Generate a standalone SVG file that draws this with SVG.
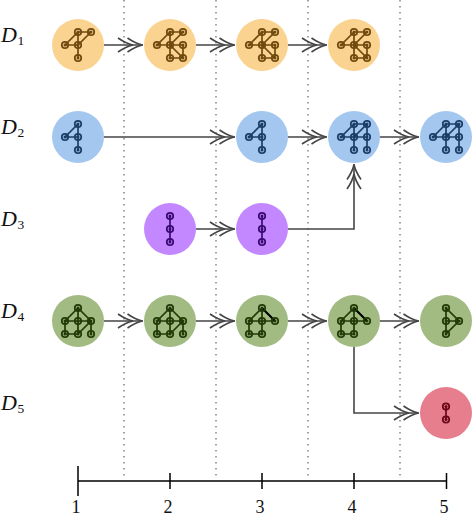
<svg xmlns="http://www.w3.org/2000/svg" width="474" height="516" viewBox="0 0 474 516">
<style>
text{font-family:"Liberation Serif","DejaVu Serif",serif;fill:#111}
.d{font-style:italic;font-size:22px}
.s{font-size:13.5px}
.t{font-size:18px;text-anchor:middle}
.grid{stroke:#8c8c8c;stroke-width:1.6;stroke-dasharray:1.6 4.4;fill:none}
.conn{stroke:#454545;stroke-width:1.6;fill:none;marker-end:url(#dbl)}
.axis{stroke:#000;stroke-width:1.5;fill:none}
.e{fill:none;stroke:currentColor;stroke-width:1.7}
.v{fill:none;stroke:currentColor;stroke-width:1.8}
.p{fill:currentColor}
.b{stroke:none}
.o{color:#6f4a0e}.o .b{fill:#fbd391}
.u{color:#1b3e68}.u .b{fill:#a4c7f0}
.r{color:#3a0a72}.r .b{fill:#c388ff}
.g{color:#213a07}.g .b{fill:#a1bb82}
.k{color:#680718}.k .b{fill:#e67e8e}
</style>
<defs>
<marker id="dbl" markerUnits="userSpaceOnUse" markerWidth="30" markerHeight="20" refX="26" refY="10" orient="auto">
<path d="M1 3 Q9 8.500 16 10 Q9 11.500 1 17M10.500 3 Q18.500 8.500 25.500 10 Q18.500 11.500 10.500 17" fill="none" stroke="#454545" stroke-width="1.6"/>
</marker>
<g id="vx"><circle class="v" r="3.2"/><circle class="p" r="1.5"/></g>
<path id="o1" class="e" d="M-13 0H0M-13 0L0-13M0-13H13M0-13V13M13-13L0 0"/>
<path id="o2" class="e" d="M-13 0H13M-13 0L0-13M0-13H13M0-13V13M13-13L0 0M0 0L13 13M13 0V13M0 13H13"/>
<path id="u1" class="e" d="M-13 0H0M-13 0L0-13M0-13V13"/>
<path id="u2" class="e" d="M-13 0H13M-13 0L0-13M0-13H13M0-13V13M13-13L0 0M13-13V13"/>
<path id="g1" class="e" d="M0-13L-13 0M0-13V13M0-13L13 0M-13 0H13M-13 0V13M-13 13H0M0 13L13 0M13 0V13"/>
<path id="g2" class="e" d="M0-13L-13 0M0-13V13M0-13L13 0M-13 0H13M-13 0V13M-13 13H0"/>
</defs>
<g id="grid">
<path class="grid" d="M124 0V478M216 0V478M308 0V478M400 0V478"/>
</g>
<g id="connectors">
<path class="conn" d="M104 45H143"/>
<path class="conn" d="M196 45H235"/>
<path class="conn" d="M288 45H327"/>
<path class="conn" d="M104 137H235"/>
<path class="conn" d="M380 137H419"/>
<path class="conn" d="M288 137H327"/>
<path class="conn" d="M196 229H235"/>
<path class="conn" d="M288 229H354V164"/>
<path class="conn" d="M104 321H143"/>
<path class="conn" d="M196 321H235"/>
<path class="conn" d="M288 321H327"/>
<path class="conn" d="M380 321H419"/>
<path class="conn" d="M354 347V413H419"/>
</g>
<g id="D1-1" class="o" transform="translate(78 45)"><circle class="b" r="26"/><use href="#o1"/><use href="#vx" x="-13"/><use href="#vx"/><use href="#vx" y="-13"/><use href="#vx" x="13" y="-13"/><use href="#vx" y="13"/></g>
<g id="D1-2" class="o" transform="translate(170 45)"><circle class="b" r="26"/><use href="#o2"/><use href="#vx" x="-13"/><use href="#vx"/><use href="#vx" x="13"/><use href="#vx" y="-13"/><use href="#vx" x="13" y="-13"/><use href="#vx" y="13"/><use href="#vx" x="13" y="13"/></g>
<g id="D1-3" class="o" transform="translate(262 45)"><circle class="b" r="26"/><use href="#o2"/><use href="#vx" x="-13"/><use href="#vx"/><use href="#vx" x="13"/><use href="#vx" y="-13"/><use href="#vx" x="13" y="-13"/><use href="#vx" y="13"/><use href="#vx" x="13" y="13"/></g>
<g id="D1-4" class="o" transform="translate(354 45)"><circle class="b" r="26"/><use href="#o2"/><use href="#vx" x="-13"/><use href="#vx"/><use href="#vx" x="13"/><use href="#vx" y="-13"/><use href="#vx" x="13" y="-13"/><use href="#vx" y="13"/><use href="#vx" x="13" y="13"/></g>
<g id="D2-1" class="u" transform="translate(78 137)"><circle class="b" r="26"/><use href="#u1"/><use href="#vx" x="-13"/><use href="#vx"/><use href="#vx" y="-13"/><use href="#vx" y="13"/></g>
<g id="D2-3" class="u" transform="translate(262 137)"><circle class="b" r="26"/><use href="#u1"/><use href="#vx" x="-13"/><use href="#vx"/><use href="#vx" y="-13"/><use href="#vx" y="13"/></g>
<g id="D2-4" class="u" transform="translate(354 137)"><circle class="b" r="26"/><use href="#u2"/><use href="#vx" x="-13"/><use href="#vx"/><use href="#vx" x="13"/><use href="#vx" y="-13"/><use href="#vx" x="13" y="-13"/><use href="#vx" y="13"/><use href="#vx" x="13" y="13"/></g>
<g id="D2-5" class="u" transform="translate(446 137)"><circle class="b" r="26"/><use href="#u2"/><use href="#vx" x="-13"/><use href="#vx"/><use href="#vx" x="13"/><use href="#vx" y="-13"/><use href="#vx" x="13" y="-13"/><use href="#vx" y="13"/><use href="#vx" x="13" y="13"/></g>
<g id="D3-2" class="r" transform="translate(170 229)"><circle class="b" r="26"/><path class="e" d="M0-13V13"/><use href="#vx"/><use href="#vx" y="-13"/><use href="#vx" y="13"/></g>
<g id="D3-3" class="r" transform="translate(262 229)"><circle class="b" r="26"/><path class="e" d="M0-13V13"/><use href="#vx"/><use href="#vx" y="-13"/><use href="#vx" y="13"/></g>
<g id="D4-1" class="g" transform="translate(78 321)"><circle class="b" r="26"/><use href="#g1"/><use href="#vx" y="-13"/><use href="#vx" x="-13"/><use href="#vx"/><use href="#vx" x="13"/><use href="#vx" x="-13" y="13"/><use href="#vx" y="13"/><use href="#vx" x="13" y="13"/></g>
<g id="D4-2" class="g" transform="translate(170 321)"><circle class="b" r="26"/><use href="#g1"/><use href="#vx" y="-13"/><use href="#vx" x="-13"/><use href="#vx"/><use href="#vx" x="13"/><use href="#vx" x="-13" y="13"/><use href="#vx" y="13"/><use href="#vx" x="13" y="13"/></g>
<g id="D4-3" class="g" transform="translate(262 321)"><circle class="b" r="26"/><use href="#g2"/><path d="M0-13L13 0" stroke="#000" stroke-width="2"/><use href="#vx" y="-13"/><use href="#vx" x="-13"/><use href="#vx"/><use href="#vx" x="13"/><use href="#vx" x="-13" y="13"/><use href="#vx" y="13"/></g>
<g id="D4-4" class="g" transform="translate(354 321)"><circle class="b" r="26"/><use href="#g2"/><path d="M0-13L13 0" stroke="#000" stroke-width="2"/><use href="#vx" y="-13"/><use href="#vx" x="-13"/><use href="#vx"/><use href="#vx" x="13"/><use href="#vx" x="-13" y="13"/><use href="#vx" y="13"/></g>
<g id="D4-5" class="g" transform="translate(446 321)"><circle class="b" r="26"/><path class="e" d="M0-13V13M0-13L13 0H0M0 13L13 0"/><use href="#vx" y="-13"/><use href="#vx"/><use href="#vx" y="13"/><use href="#vx" x="13"/></g>
<g id="D5-5" class="k" transform="translate(446 413)"><circle class="b" r="26"/><path class="e" d="M0-6.500V6.500"/><use href="#vx" y="-6.500"/><use href="#vx" y="6.500"/></g>
<g id="labels">
<text x="1" y="42" class="d">D</text><text x="17.500" y="45" class="s">1</text>
<text x="1" y="134" class="d">D</text><text x="17.500" y="137" class="s">2</text>
<text x="1" y="226" class="d">D</text><text x="17.500" y="229" class="s">3</text>
<text x="1" y="318" class="d">D</text><text x="17.500" y="321" class="s">4</text>
<text x="1" y="410" class="d">D</text><text x="17.500" y="413" class="s">5</text>
</g>
<g id="axis">
<path class="axis" d="M78 481H446.500M78 466V496M170 473V489M262 473V489M354 473V489M446.500 473V489"/>
<text x="76" y="513" class="t">1</text>
<text x="168" y="513" class="t">2</text>
<text x="260" y="513" class="t">3</text>
<text x="352" y="513" class="t">4</text>
<text x="444" y="513" class="t">5</text>
</g>
</svg>
